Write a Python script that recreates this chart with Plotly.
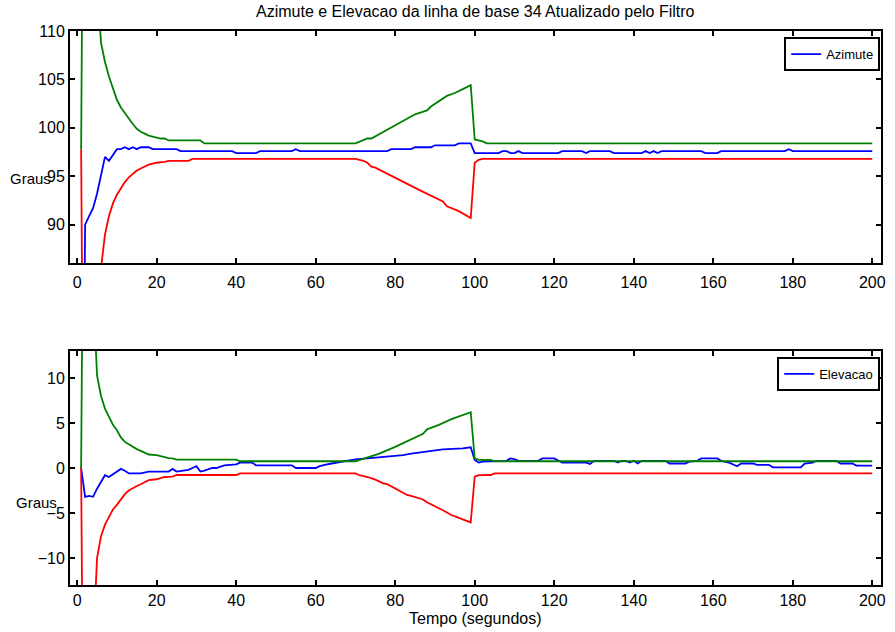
import plotly.graph_objects as go

# ---------------- data: Azimute (top panel) ----------------
az_est_t = [1, 2, 3, 4, 5, 6, 7, 8, 9, 10, 11, 12, 13, 14, 15, 16, 18, 19, 25, 26, 39, 40, 45, 46,
            54, 55, 56, 78, 79, 84, 85, 89, 90, 95, 96, 99, 100, 106, 107, 108, 109, 110, 111, 112,
            121, 122, 127, 128, 129, 134, 135, 142, 143, 144, 145, 146, 147, 157, 158, 161, 162,
            178, 179, 180, 200]
az_est_v = [40, 90.0, 90.9, 91.7, 93.2, 95.3, 97.0, 96.6, 97.2, 97.8, 97.8, 98.0, 97.8, 98.0, 97.8, 98.0, 98.0, 97.8, 97.8, 97.6, 97.6, 97.4, 97.4, 97.6,
            97.6, 97.8, 97.6, 97.6, 97.8, 97.8, 98.0, 98.0, 98.2, 98.2, 98.4, 98.4, 97.4, 97.4, 97.6, 97.6, 97.4, 97.4, 97.6, 97.4,
            97.4, 97.6, 97.6, 97.4, 97.6, 97.6, 97.4, 97.4, 97.6, 97.4, 97.6, 97.4, 97.6, 97.6, 97.4, 97.4, 97.6,
            97.6, 97.8, 97.6, 97.6]

az_up_t = [1, 2, 3, 4, 5, 6, 7, 8, 9, 10, 11, 12, 13, 14, 15, 16, 17, 18, 19, 20, 21, 22, 23, 31, 32,
           70, 72, 73, 74, 84, 85, 88, 89, 93, 95, 97, 99, 100, 101, 102, 103, 200]
az_up_v = [97.8, 160, 140, 125, 115, 108.8, 106.8, 105.3, 104.0, 102.9, 102.1, 101.5, 100.9, 100.4, 99.9, 99.6, 99.4, 99.2, 99.1, 99.0, 98.9, 98.9, 98.7, 98.7, 98.4,
           98.4, 98.7, 98.9, 98.9, 101.1, 101.4, 101.8, 102.2, 103.3, 103.6, 104.0, 104.4, 98.8, 98.7, 98.6, 98.4, 98.4]

az_lo_t = [1, 2, 3, 4, 5, 6, 7, 8, 9, 10, 11, 12, 13, 14, 15, 16, 17, 18, 19, 20, 22, 23, 28, 29,
           70, 71, 72, 73, 74, 75, 84, 85, 86, 92, 93, 96, 99, 100, 101, 102, 200]
az_lo_v = [97.8, 40, 60, 72, 80, 85.5, 89.0, 90.9, 92.2, 93.1, 93.8, 94.4, 94.9, 95.3, 95.6, 95.8, 96.0, 96.2, 96.3, 96.4, 96.5, 96.6, 96.6, 96.8,
           96.8, 96.7, 96.6, 96.4, 96.0, 95.9, 94.0, 93.8, 93.6, 92.4, 91.9, 91.4, 90.7, 96.4, 96.7, 96.8, 96.8]

# ---------------- data: Elevacao (bottom panel) ----------------
el_est_t = [1, 2, 3, 4, 5, 6, 7, 8, 9, 10, 11, 12, 13, 16, 18, 23, 24, 25, 28, 29, 30, 31, 32, 34, 35, 37, 40, 41, 44, 45,
            54, 55, 60, 61, 62, 64, 67, 68, 70, 73, 78, 82, 84, 88, 92, 97, 98, 99, 100, 101, 102, 108, 109, 110, 111,
            116, 117, 120, 122, 128, 129, 130, 135, 136, 137, 138, 139, 140, 141, 142, 148, 149, 153, 154, 156, 157,
            161, 162, 164, 165, 166, 167, 170, 171, 174, 175, 182, 183, 185, 186, 191, 192, 195, 196, 200]
el_est_v = [0.0, -3.2, -3.1, -3.2, -2.3, -1.5, -0.8, -1.0, -0.7, -0.4, -0.1, -0.3, -0.6, -0.6, -0.4, -0.4, -0.1, -0.4, -0.2, 0.0, 0.2, -0.4, -0.3, 0.0, 0.0, 0.3, 0.4, 0.6, 0.6, 0.3,
            0.3, 0.0, 0.0, 0.2, 0.33, 0.5, 0.7, 0.8, 0.96, 1.07, 1.25, 1.44, 1.6, 1.8, 2.07, 2.18, 2.2, 2.3, 0.9, 0.6, 0.7, 0.8, 1.07, 1.0, 0.8,
            0.8, 1.07, 1.07, 0.6, 0.6, 0.45, 0.8, 0.8, 0.6, 0.8, 0.8, 0.6, 0.8, 0.5, 0.8, 0.8, 0.5, 0.5, 0.7, 0.8, 1.07,
            1.07, 0.8, 0.6, 0.4, 0.2, 0.5, 0.5, 0.35, 0.35, 0.07, 0.07, 0.5, 0.6, 0.8, 0.8, 0.5, 0.5, 0.26, 0.26]

el_up_t = [1, 2, 3, 4, 5, 6, 7, 8, 9, 10, 11, 12, 13, 14, 15, 16, 17, 18, 20, 21, 22, 23, 24, 25, 40, 41,
           70, 71, 73, 76, 80, 84, 87, 88, 91, 94, 97, 99, 100, 101, 104, 105, 200]
el_up_v = [0.0, 60, 35, 20, 10.3, 8.0, 6.6, 5.7, 4.8, 4.2, 3.4, 2.9, 2.6, 2.4, 2.1, 1.9, 1.7, 1.5, 1.44, 1.3, 1.2, 1.1, 1.07, 0.93, 0.93, 0.75,
           0.75, 0.9, 1.2, 1.6, 2.35, 3.2, 3.8, 4.3, 4.8, 5.4, 5.9, 6.2, 1.07, 0.9, 0.89, 0.75, 0.75]

el_lo_t = [1, 2, 3, 4, 5, 6, 7, 8, 9, 10, 11, 12, 13, 14, 15, 16, 17, 18, 20, 21, 22, 24, 25, 40, 41,
           70, 71, 73, 75, 77, 78, 83, 84, 87, 88, 92, 94, 97, 99, 100, 101, 104, 105, 200]
el_lo_v = [0.0, -60, -35, -20, -10.0, -7.6, -6.3, -5.4, -4.6, -4.1, -3.5, -2.9, -2.5, -2.2, -2.0, -1.8, -1.6, -1.35, -1.25, -1.15, -1.0, -0.95, -0.78, -0.78, -0.6,
           -0.6, -0.8, -1.0, -1.3, -1.7, -1.8, -3.0, -3.1, -3.5, -3.8, -4.7, -5.2, -5.7, -6.05, -0.96, -0.8, -0.78, -0.6, -0.6]

x_ticks = [0, 20, 40, 60, 80, 100, 120, 140, 160, 180, 200]
az_ticks = [90, 95, 100, 105, 110]
el_ticks = [-10, -5, 0, 5, 10]

FONT = "Liberation Sans, Arial, sans-serif"
BLUE, GREEN, RED = "#0000FF", "#008000", "#FF0000"
LW = 1.8

fig = go.Figure()
fig.add_trace(go.Scatter(x=az_est_t, y=az_est_v, mode="lines", name="Azimute",
                         line=dict(color=BLUE, width=LW), xaxis="x", yaxis="y", legend="legend"))
fig.add_trace(go.Scatter(x=az_up_t, y=az_up_v, mode="lines", showlegend=False,
                         line=dict(color=GREEN, width=LW), xaxis="x", yaxis="y"))
fig.add_trace(go.Scatter(x=az_lo_t, y=az_lo_v, mode="lines", showlegend=False,
                         line=dict(color=RED, width=LW), xaxis="x", yaxis="y"))

fig.add_trace(go.Scatter(x=el_est_t, y=el_est_v, mode="lines", name="Elevacao",
                         line=dict(color=BLUE, width=LW), xaxis="x2", yaxis="y2", legend="legend2"))
fig.add_trace(go.Scatter(x=el_up_t, y=el_up_v, mode="lines", showlegend=False,
                         line=dict(color=GREEN, width=LW), xaxis="x2", yaxis="y2"))
fig.add_trace(go.Scatter(x=el_lo_t, y=el_lo_v, mode="lines", showlegend=False,
                         line=dict(color=RED, width=LW), xaxis="x2", yaxis="y2"))

axis_common = dict(showline=True, linecolor="black", linewidth=2, mirror="ticks",
                   ticks="inside", ticklen=5, tickwidth=2, tickcolor="black",
                   showgrid=False, zeroline=False,
                   tickfont=dict(family=FONT, size=16, color="black"))

H_TOP = (585 - 263) / 554
H_BOT = (585 - 351) / 554

fig.update_layout(
    width=895, height=632,
    margin=dict(l=70, r=9, t=31, b=47),
    paper_bgcolor="white", plot_bgcolor="white",
    xaxis=dict(domain=[0, 1], range=[-1.8, 202.2], tickvals=x_ticks, anchor="y",
               ticklabelstandoff=4, **axis_common),
    yaxis=dict(domain=[H_TOP, 1], range=[86.05, 110], tickvals=az_ticks, anchor="x", **axis_common),
    xaxis2=dict(domain=[0, 1], range=[-1.8, 202.2], tickvals=x_ticks, anchor="y2",
                ticklabelstandoff=0, **axis_common),
    yaxis2=dict(domain=[0, H_BOT], range=[-13, 13], tickvals=el_ticks, anchor="x2", **axis_common),
    legend=dict(x=0.999, y=0.989, xanchor="right", yanchor="top", bordercolor="black",
                borderwidth=2, bgcolor="white", font=dict(family=FONT, size=13, color="black")),
    legend2=dict(x=0.999, y=0.4116, xanchor="right", yanchor="top", bordercolor="black",
                 borderwidth=2, bgcolor="white", font=dict(family=FONT, size=13, color="black")),
    showlegend=True,
    annotations=[
        dict(text="Azimute e Elevacao da linha de base 34 Atualizado pelo Filtro",
             x=0.5, y=(585 - 12) / 554, xref="paper", yref="paper", showarrow=False,
             xanchor="center", yanchor="middle", font=dict(family=FONT, size=16, color="black")),
        dict(text="Tempo (segundos)", x=0.5, y=(585 - 618) / 554, xref="paper", yref="paper",
             showarrow=False, xanchor="center", yanchor="middle",
             font=dict(family=FONT, size=16, color="black")),
        dict(text="Graus", x=(30 - 70) / 816, y=(585 - 178) / 554, xref="paper", yref="paper",
             showarrow=False, xanchor="center", yanchor="middle",
             font=dict(family=FONT, size=15, color="black")),
        dict(text="Graus", x=(36 - 70) / 816, y=(585 - 502) / 554, xref="paper", yref="paper",
             showarrow=False, xanchor="center", yanchor="middle",
             font=dict(family=FONT, size=15, color="black")),
    ],
)

fig.write_html("out.html", config={"displayModeBar": False},
               post_script="document.body.style.margin='0px';document.body.style.overflow='hidden';")
